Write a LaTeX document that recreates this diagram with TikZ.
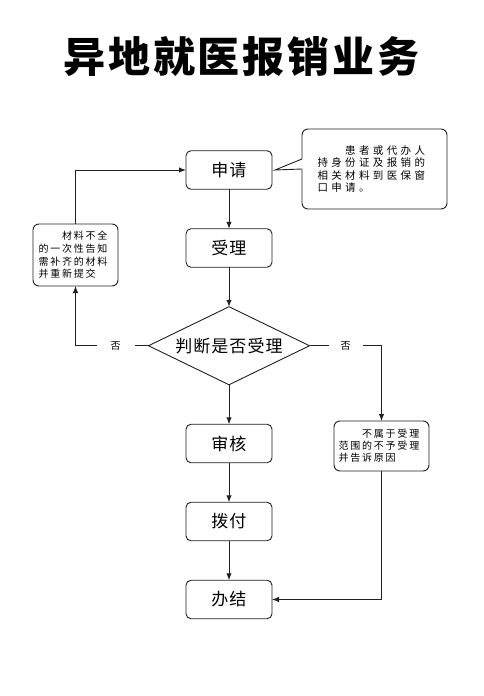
\documentclass[tikz,border=0pt]{standalone}
\usepackage{fontspec}
\setmainfont{Noto Sans CJK SC}
\newfontfamily\titlefont[LetterSpace=7]{Noto Sans CJK SC}
\newfontfamily\boxfont[LetterSpace=6]{Noto Sans CJK SC}
\newfontfamily\notefont[LetterSpace=32]{Noto Sans CJK SC}
\newfontfamily\smallfont[LetterSpace=18]{Noto Sans CJK SC}
\usetikzlibrary{positioning,shapes.geometric,arrows.meta}
\definecolor{linegray}{RGB}{35,31,32}
\begin{document}
\begin{tikzpicture}[
  x=1pt, y=1pt,
  node distance=39.5pt,
  every node/.style={outer sep=0pt},
  stepbox/.style={draw=linegray, rounded corners=5pt, line width=0.9pt, minimum width=86pt, minimum height=38.5pt, inner sep=0pt, font=\boxfont\fontsize{17}{19}\selectfont},
  decision/.style={draw=linegray, diamond, aspect=2.06, line width=0.9pt, minimum width=161pt, minimum height=78pt, inner sep=0pt, font=\boxfont\fontsize{17}{19}\selectfont},
  notebox/.style={draw=linegray, rounded corners=6pt, line width=0.9pt, align=left, inner ysep=0pt},
  nolabel/.style={fill=white, inner xsep=14pt, inner ysep=1pt, font=\smallfont\fontsize{10}{12}\selectfont},
  arrow/.style={-{Latex[length=7pt,width=5.5pt]}, draw=linegray, line width=1pt}
]
\useasboundingbox (0,0) rectangle (483,-696);
\node (title) at (241.5,-57) {\titlefont\bfseries\fontsize{42}{42}\selectfont 异地就医报销业务};

\node[stepbox] (apply) at (229,-170) {申请};
\node[stepbox, below=of apply] (accept) {受理};
\node[decision, below=of accept] (judge) {判断是否受理};
\node[stepbox, below=of judge] (review) {审核};
\node[stepbox, below=of review] (pay) {拨付};
\node[stepbox, below=of pay] (done) {办结};

% side notes
\node[notebox, right=30pt of apply, yshift=1pt, text width=114pt, inner xsep=15.5pt, minimum height=80pt,
  font=\notefont\fontsize{10.5}{12.5}\selectfont] (note)
  {　　患者或代办人\\持身份证及报销的\\相关材料到医保窗\\口申请。};
\node[notebox, left=68pt of accept, yshift=-7pt, text width=74pt, inner xsep=5.5pt, minimum height=62pt,
  font=\smallfont\fontsize{10}{12.7}\selectfont] (fail)
  {　　材料不全\\的一次性告知\\需补齐的材料\\并重新提交};
\node[notebox, right=62pt of review, yshift=-2.5pt, text width=86pt, inner xsep=4.5pt, minimum height=50pt,
  font=\smallfont\fontsize{10}{12}\selectfont] (reject)
  {　　不属于受理\\范围的不予受理\\并告诉原因};

% callout pointer
\coordinate (tip) at ([xshift=3pt]apply.east);
\fill[white] (tip) -- ([xshift=1pt,yshift=10pt]note.west) -- ([xshift=1pt]note.west) -- cycle;
\draw[linegray, line width=0.9pt] ([yshift=10pt]note.west) -- (tip) -- (note.west);

\draw[arrow] (apply) -- (accept);
\draw[arrow] (accept) -- (judge);
\draw[arrow] (judge) -- (review);
\draw[arrow] (review) -- (pay);
\draw[arrow] (pay) -- (done);
\draw[arrow] (judge.west) -- node[nolabel, pos=0.45] {否} (judge.west -| fail.south) -- (fail.south);
\draw[arrow] (fail.north) |- (apply.west);
\draw[arrow] (judge.east) -- node[nolabel, inner xsep=12pt] {否} (judge.east -| reject.north) -- (reject.north);
\draw[arrow] (reject.south) |- (done.east);
\end{tikzpicture}
\end{document}
